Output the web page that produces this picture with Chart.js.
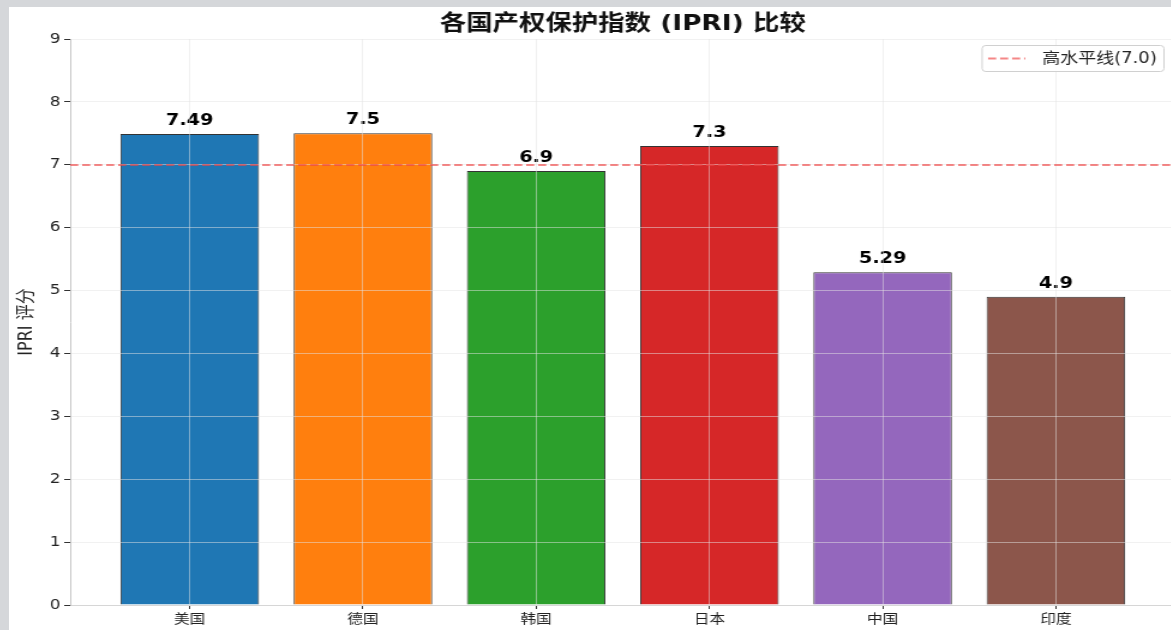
<!DOCTYPE html>
<html lang="zh">
<head>
<meta charset="UTF-8">
<title>各国产权保护指数 (IPRI) 比较</title>
<script src="https://cdn.jsdelivr.net/npm/chart.js"></script>
<style>
    body {
        margin: 0;
        padding: 0;
        background: #d5d7da;
        overflow: hidden;
    }
    .wrap {
        position: absolute;
        left: 9px;
        top: 7px;
        width: 1172px;
        height: 623px;
        background: #ffffff;
        overflow: hidden;
    }
    /* the source picture is stretched sideways, so the canvas is too */
    #ipriChart {
        transform: scaleX(1.2);
        transform-origin: 0 0;
    }
</style>
</head>
<body>
<div class="wrap">
    <canvas id="ipriChart" width="976" height="623"></canvas>
</div>
<script>
    const countries = ['美国', '德国', '韩国', '日本', '中国', '印度'];
    const scores = [7.49, 7.5, 6.9, 7.3, 5.29, 4.9];
    const barColors = ['#1f77b4', '#ff7f0e', '#2ca02c', '#d62728', '#9467bd', '#8c564b'];
    const highLevel = 7.0;
    const highLabel = '高水平线(7.0)';
    const yTicks = [0, 1, 2, 3, 4, 5, 6, 7, 8, 9];

    const X_MIN = -0.69, X_MAX = 5.69;
    const latin = "'DejaVu Sans', 'Noto Sans CJK SC', sans-serif";
    const lineStyle = { color: 'rgba(238,70,70,0.65)', width: 2, dash: [6.7, 3.3] };

    // value labels above each bar
    const barLabels = {
        id: 'barLabels',
        afterDatasetsDraw(chart) {
            const ctx = chart.ctx;
            const meta = chart.getDatasetMeta(0);
            ctx.save();
            ctx.font = 'bold 16px ' + latin;
            ctx.fillStyle = '#000';
            ctx.textAlign = 'center';
            ctx.textBaseline = 'bottom';
            meta.data.forEach((bar, i) => {
                ctx.fillText(String(scores[i]), bar.x, bar.y - 5);
            });
            ctx.restore();
        }
    };

    // dashed high-level line, on top of bars and grid
    const highLine = {
        id: 'highLine',
        afterDraw(chart) {
            const a = chart.chartArea;
            const xs = chart.scales.x;
            const y = Math.round(chart.scales.y.getPixelForValue(highLevel));
            const ctx = chart.ctx;
            ctx.save();
            ctx.strokeStyle = lineStyle.color;
            ctx.lineWidth = lineStyle.width;
            ctx.setLineDash(lineStyle.dash);
            ctx.beginPath();
            ctx.moveTo(xs.getPixelForValue(X_MIN), y);
            ctx.lineTo(xs.getPixelForValue(X_MAX), y);
            ctx.stroke();
            ctx.restore();
        }
    };

    // boxed legend in the top right corner of the plot
    const boxLegend = {
        id: 'boxLegend',
        afterDraw(chart) {
            const ctx = chart.ctx;
            const area = chart.chartArea;
            ctx.save();
            ctx.font = '15px ' + latin;
            const tw = ctx.measureText(highLabel).width;
            const w = tw + 56, h = 26;
            const x = area.right - 9.5 - w, y = area.top + 6;
            ctx.fillStyle = 'rgba(255,255,255,0.85)';
            ctx.strokeStyle = '#d0d0d0';
            ctx.lineWidth = 1;
            ctx.beginPath();
            ctx.roundRect(x, y + 0.5, w, h, 3);
            ctx.fill();
            ctx.stroke();
            ctx.strokeStyle = lineStyle.color;
            ctx.lineWidth = lineStyle.width;
            ctx.setLineDash(lineStyle.dash);
            ctx.beginPath();
            ctx.moveTo(x + 5, y + h / 2 + 0.5);
            ctx.lineTo(x + 36, y + h / 2 + 0.5);
            ctx.stroke();
            ctx.setLineDash([]);
            ctx.fillStyle = '#222';
            ctx.textBaseline = 'middle';
            ctx.fillText(highLabel, x + 50, y + h / 2 + 1);
            ctx.restore();
        }
    };

    const gridColor = 'rgba(228,228,228,0.5)';

    new Chart(document.getElementById('ipriChart'), {
        type: 'bar',
        data: {
            datasets: [{
                label: 'IPRI',
                data: scores.map((v, i) => ({ x: i, y: v })),
                backgroundColor: barColors,
                borderColor: '#333',
                borderWidth: 1,
                categoryPercentage: 1,
                barPercentage: 0.8
            }]
        },
        options: {
            responsive: false,
            animation: false,
            layout: { padding: { left: 0, right: 4, top: 0, bottom: 0 } },
            scales: {
                x: {
                    type: 'linear',
                    min: X_MIN,
                    max: X_MAX,
                    offset: false,
                    afterBuildTicks: (scale) => {
                        scale.ticks = countries.map((_, i) => ({ value: i }));
                    },
                    afterFit: (scale) => { scale.height = 25; },
                    ticks: {
                        callback: (v) => countries[v],
                        color: '#222',
                        font: { family: latin, size: 13 },
                        padding: 3,
                        maxRotation: 0
                    },
                    grid: {
                        z: 1,
                        offset: false,
                        color: gridColor,
                        tickColor: '#333',
                        tickLength: 4,
                        lineWidth: 1
                    },
                    border: { color: '#c8c8c8', width: 1, z: 1 }
                },
                y: {
                    min: 0,
                    max: 9,
                    afterBuildTicks: (scale) => {
                        scale.ticks = yTicks.map(v => ({ value: v }));
                    },
                    afterFit: (scale) => { scale.width = 51; },
                    ticks: {
                        color: '#222',
                        font: { family: latin, size: 14 },
                        padding: 3
                    },
                    grid: {
                        z: 1,
                        color: gridColor,
                        tickColor: '#333',
                        tickLength: 5,
                        lineWidth: 1
                    },
                    border: { color: '#c8c8c8', width: 1, z: 1 },
                    title: {
                        display: true,
                        text: 'IPRI 评分',
                        color: '#222',
                        font: { family: latin, size: 16 },
                        padding: { top: 5, bottom: 0 }
                    }
                }
            },
            plugins: {
                legend: { display: false },
                tooltip: { enabled: false },
                title: {
                    display: true,
                    fullSize: false,
                    text: '各国产权保护指数 (IPRI) 比较',
                    color: '#111',
                    font: { family: latin, size: 22, weight: 'bold' },
                    padding: { top: 4, bottom: 1.6 }
                }
            }
        },
        plugins: [barLabels, highLine, boxLegend]
    });
</script>
</body>
</html>
